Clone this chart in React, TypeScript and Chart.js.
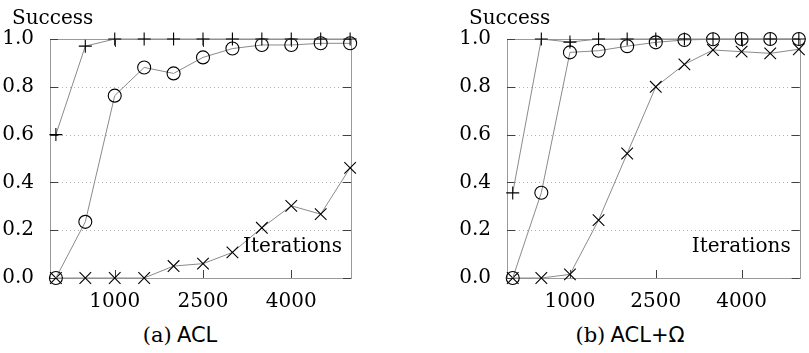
import React, { useEffect, useRef } from "react";
import { Chart, registerables } from "chart.js";

Chart.register(...registerables);

const iterations = [0, 500, 1000, 1500, 2000, 2500, 3000, 3500, 4000, 4500, 5000];
const xTickValues = [1000, 2500, 4000];
const yTickValues = [0, 0.2, 0.4, 0.6, 0.8, 1.0];

const aclPlus = [0.6, 0.97, 1, 1, 1, 1, 1, 1, 1, 1, 1];
const aclCircle = [0, 0.235, 0.763, 0.881, 0.856, 0.923, 0.96, 0.975, 0.975, 0.982, 0.982];
const aclCross = [0, 0, 0, 0, 0.05, 0.06, 0.107, 0.21, 0.302, 0.267, 0.461];

const omegaPlus = [0.356, 1.0, 0.987, 1, 1, 1, 1, 1, 1, 1, 1];
const omegaCircle = [0, 0.357, 0.944, 0.951, 0.97, 0.986, 0.996, 0.999, 1, 1, 1];
const omegaCross = [0, 0, 0.015, 0.242, 0.521, 0.8, 0.894, 0.954, 0.947, 0.94, 0.957];

const SERIF = "'DejaVu Serif', serif";
const FS = 20;

function series(values: number[], style: string, radius: number) {
  return {
    data: iterations.map((x, i) => ({ x, y: values[i] })),
    borderColor: "#8a8a8a",
    borderWidth: 1,
    pointStyle: style,
    pointRadius: radius,
    pointBorderColor: "#000",
    pointBorderWidth: 1.1,
    pointBackgroundColor: "rgba(0,0,0,0)",
    clip: false as any,
    tension: 0,
  };
}

function makeChart(canvas: HTMLCanvasElement, plus: number[], circle: number[], cross: number[], yAxisWidth: number, padRight: number) {
  const decor = {
    id: "decor",
    beforeDatasetsDraw(chart: any) {
      const { ctx, chartArea: a, scales } = chart;
      const ys = scales.y;
      const xs = scales.x;
      ctx.save();
      ctx.strokeStyle = "#b0b0b0";
      ctx.lineWidth = 1;
      ctx.setLineDash([1, 3]);
      yTickValues.slice(1, -1).forEach((v) => {
        const py = Math.round(ys.getPixelForValue(v)) + 0.5;
        ctx.beginPath();
        ctx.moveTo(a.left, py);
        ctx.lineTo(a.right, py);
        ctx.stroke();
      });
      ctx.setLineDash([]);
      ctx.strokeStyle = "#9a9a9a";
      ctx.strokeRect(Math.round(a.left) + 0.5, Math.round(a.top) + 0.5, Math.round(a.right - a.left), Math.round(a.bottom - a.top));
      ctx.strokeStyle = "#404040";
      const tl = 8;
      yTickValues.forEach((v) => {
        const py = Math.round(ys.getPixelForValue(v)) + 0.5;
        ctx.beginPath();
        ctx.moveTo(a.left, py);
        ctx.lineTo(a.left + tl, py);
        ctx.moveTo(a.right, py);
        ctx.lineTo(a.right - tl, py);
        ctx.stroke();
      });
      xTickValues.forEach((v) => {
        const px = Math.round(xs.getPixelForValue(v)) + 0.5;
        ctx.beginPath();
        ctx.moveTo(px, a.bottom);
        ctx.lineTo(px, a.bottom - tl);
        ctx.moveTo(px, a.top);
        ctx.lineTo(px, a.top + tl);
        ctx.stroke();
      });
      ctx.restore();
    },
    afterDraw(chart: any) {
      const { ctx, chartArea: a } = chart;
      ctx.save();
      ctx.fillStyle = "#000";
      ctx.font = `${FS}px ${SERIF}`;
      ctx.textBaseline = "alphabetic";
      ctx.textAlign = "left";
      ctx.fillText("Success", a.left - 38, 24);
      ctx.textAlign = "right";
      ctx.fillText("Iterations", a.right - 9, 252);
      ctx.restore();
    },
  };

  return new Chart(canvas, {
    type: "line",
    data: {
      datasets: [series(plus, "cross", 6.5), series(circle, "circle", 6.5), series(cross, "crossRot", 8.2)] as any,
    },
    options: {
      animation: false,
      responsive: false,
      events: [],
      layout: { padding: { top: 39, right: padRight, left: 0, bottom: 0 } },
      plugins: { legend: { display: false }, tooltip: { enabled: false } },
      scales: {
        x: {
          type: "linear",
          min: -100,
          max: 5015,
          grid: { display: false },
          border: { display: false },
          afterBuildTicks: (s: any) => {
            s.ticks = xTickValues.map((v) => ({ value: v }));
          },
          afterFit: (s: any) => {
            s.height = 32;
          },
          ticks: {
            autoSkip: false,
            maxRotation: 0,
            padding: 4,
            color: "#000",
            font: { family: SERIF, size: FS },
            callback: (v: any) => String(v),
          },
        },
        y: {
          type: "linear",
          min: 0,
          max: 1,
          grid: { display: false },
          border: { display: false },
          afterBuildTicks: (s: any) => {
            s.ticks = yTickValues.map((v) => ({ value: v }));
          },
          afterFit: (s: any) => {
            s.width = yAxisWidth;
          },
          ticks: {
            padding: 8,
            color: "#000",
            font: { family: SERIF, size: FS },
            callback: (v: any) => Number(v).toFixed(1),
          },
        },
      },
    },
    plugins: [decor],
  });
}

export default function App() {
  const c1 = useRef<HTMLCanvasElement>(null);
  const c2 = useRef<HTMLCanvasElement>(null);

  useEffect(() => {
    const a = makeChart(c1.current!, aclPlus, aclCircle, aclCross, 50, 49);
    const b = makeChart(c2.current!, omegaPlus, omegaCircle, omegaCross, 107, 2);
    return () => {
      a.destroy();
      b.destroy();
    };
  }, []);

  const capStyle: React.CSSProperties = {
    position: "absolute",
    top: 321,
    fontSize: 21,
    lineHeight: "28px",
    color: "#000",
    whiteSpace: "nowrap",
    textAlign: "center",
  };

  return (
    <div style={{ position: "fixed", left: 0, top: 0, width: 809, height: 353, background: "#fff", overflow: "hidden" }}>
      <canvas ref={c1} width={400} height={310} style={{ position: "absolute", left: 0, top: 0 }} />
      <canvas ref={c2} width={409} height={310} style={{ position: "absolute", left: 400, top: 0 }} />
      <div style={{ ...capStyle, left: 80, width: 200 }}>
        <span style={{ fontFamily: SERIF }}>(a)</span>{" "}
        <span style={{ fontFamily: "'DejaVu Sans', sans-serif" }}>ACL</span>
      </div>
      <div style={{ ...capStyle, left: 530, width: 200 }}>
        <span style={{ fontFamily: SERIF }}>(b)</span>{" "}
        <span style={{ fontFamily: "'DejaVu Sans', sans-serif" }}>ACL+Ω</span>
      </div>
    </div>
  );
}
